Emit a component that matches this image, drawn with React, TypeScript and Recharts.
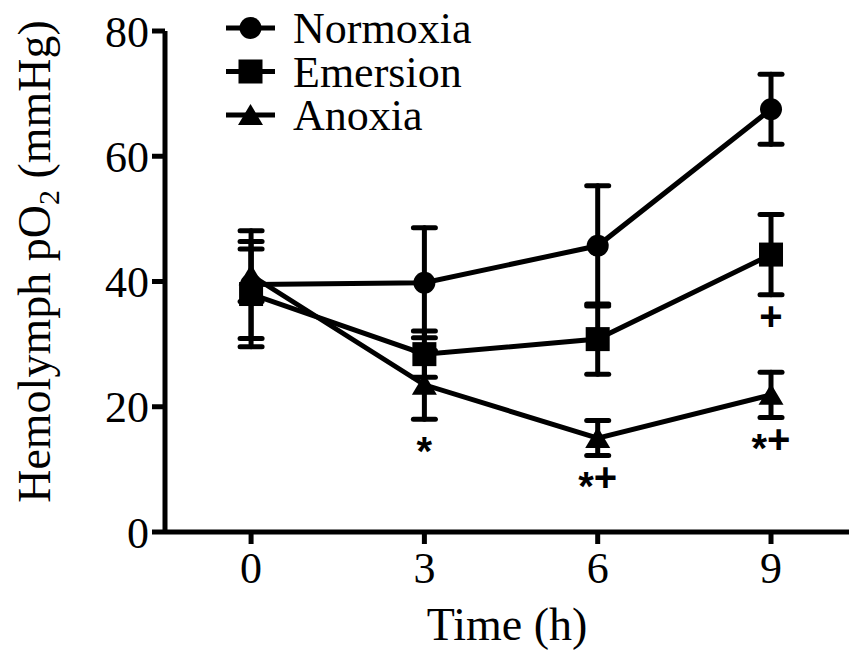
import React from 'react';
import { ComposedChart, Line, Scatter, XAxis, YAxis, ErrorBar, Legend } from 'recharts';

const times = [0, 3, 6, 9];
const normoxiaMean = [39.5, 39.8, 45.7, 67.5];
const normoxiaSem = [8.6, 8.8, 9.6, 5.6];
const emersionMean = [38, 28.4, 30.8, 44.3];
const emersionSem = [8.4, 3.7, 5.6, 6.4];
const anoxiaMean = [41, 23.5, 15, 21.9];
const anoxiaSem = [4.2, 5.5, 2.8, 3.6];

const xTicks = [0, 3, 6, 9];
const yTicks = [0, 20, 40, 60, 80];

const markTimes = [3, 6, 9, 9];
const markValues = [12.2, 6.6, 32.2, 12.6];
const markLabels = ['*', '*+', '+', '*+'];

const seriesList = [
  { key: 'normoxia', name: 'Normoxia', shape: 'circle' },
  { key: 'emersion', name: 'Emersion', shape: 'square' },
  { key: 'anoxia', name: 'Anoxia', shape: 'triangle' },
];

const data = times.map((t, i) => ({
  time: t,
  normoxia: normoxiaMean[i],
  normoxiaErr: normoxiaSem[i],
  emersion: emersionMean[i],
  emersionErr: emersionSem[i],
  anoxia: anoxiaMean[i],
  anoxiaErr: anoxiaSem[i],
}));

const marks = markTimes.map((t, i) => ({ time: t, mark: markValues[i], label: markLabels[i] }));

const SERIF = '"Liberation Serif", "Times New Roman", Times, serif';
const SANS = '"Liberation Sans", Arial, Helvetica, sans-serif';

function Marker({ shape, cx, cy }: { shape: string; cx: number; cy: number }) {
  if (shape === 'circle') return <circle cx={cx} cy={cy} r={11} fill="#000" />;
  if (shape === 'square') return <rect x={cx - 12} y={cy - 12} width={24} height={24} fill="#000" />;
  return (
    <polygon
      points={`${cx},${cy - 11} ${cx + 12.5},${cy + 10} ${cx - 12.5},${cy + 10}`}
      fill="#000"
    />
  );
}

const makeDot = (shape: string) => (props: any) => {
  const { cx, cy, index } = props;
  if (cx == null || cy == null) return <g key={`${shape}-${index}`} />;
  return (
    <g key={`${shape}-${index}`}>
      <Marker shape={shape} cx={cx} cy={cy} />
    </g>
  );
};

const LegendContent = () => (
  <svg width={270} height={140}>
    {seriesList.map((s, i) => {
      const cy = 28 + i * 43.5;
      return (
        <g key={s.key}>
          <line x1={11} x2={60} y1={cy} y2={cy} stroke="#000" strokeWidth={5} />
          <Marker shape={s.shape} cx={35.5} cy={cy} />
          <text x={78} y={cy + 15} fontSize={44} fontFamily={SERIF} fill="#000">
            {s.name}
          </text>
        </g>
      );
    })}
  </svg>
);

const MarkShape = (props: any) => {
  const { cx, cy, payload } = props;
  const chars: string[] = String(payload.label).split('');
  return (
    <text
      x={cx}
      y={cy}
      textAnchor="middle"
      fontSize={40}
      fontWeight="bold"
      fontFamily={SANS}
      fill="#000"
    >
      {chars.map((c, i) => {
        const shift = c === '*' ? 9 : 0;
        const prev = i > 0 && chars[i - 1] === '*' ? 9 : 0;
        return (
          <tspan key={i} dy={shift - prev}>
            {c}
          </tspan>
        );
      })}
    </text>
  );
};

const YLabel = (props: any) => {
  const vb = props.viewBox || { x: 0, y: 31, width: 165, height: 501 };
  const cx = 50;
  const cy = vb.y + vb.height / 2 - 20;
  return (
    <text
      x={cx}
      y={cy}
      transform={`rotate(-90, ${cx}, ${cy})`}
      textAnchor="middle"
      fontSize={46}
      fontFamily={SERIF}
      fill="#000"
      stroke="none"
    >
      <tspan fill="#000">Hemolymph pO</tspan>
      <tspan fill="#000" fontSize={30} dy={9}>2</tspan>
      <tspan fill="#000" dy={-9}> (mmHg)</tspan>
    </text>
  );
};

export default function App() {
  return (
    <div style={{ position: 'absolute', left: 0, top: 0, width: 849, height: 656, background: '#fff' }}>
      <ComposedChart width={849} height={656} data={data} margin={{ top: 31, right: 0, bottom: 0, left: 0 }}>
        <XAxis
          dataKey="time"
          type="number"
          domain={[-1.49, 10.35]}
          allowDataOverflow
          ticks={xTicks}
          height={124}
          axisLine={{ stroke: '#000', strokeWidth: 5 }}
          tickLine={{ stroke: '#000', strokeWidth: 5 }}
          tickSize={12}
          tickMargin={8}
          tick={{ fill: '#000', fontSize: 44, fontFamily: SERIF }}
          label={{ value: 'Time (h)', position: 'insideBottom', offset: 16, fill: '#000', fontSize: 46, fontFamily: SERIF }}
        />
        <YAxis
          type="number"
          domain={[0, 80]}
          ticks={yTicks}
          width={165}
          axisLine={{ stroke: '#000', strokeWidth: 5 }}
          tickLine={{ stroke: '#000', strokeWidth: 5 }}
          tickSize={13}
          tickMargin={3}
          tick={{ fill: '#000', fontSize: 44, fontFamily: SERIF }}
          label={<YLabel />}
        />
        <Legend
          layout="vertical"
          align="center"
          verticalAlign="middle"
          content={<LegendContent />}
          wrapperStyle={{ position: 'absolute', left: 215, top: 0, width: 270, height: 140 }}
        />
        {seriesList.map((s) => (
          <Line
            key={s.key}
            dataKey={s.key}
            name={s.name}
            stroke="#000"
            strokeWidth={5}
            isAnimationActive={false}
            dot={makeDot(s.shape)}
            activeDot={false}
          >
            <ErrorBar
              dataKey={`${s.key}Err`}
              direction="y"
              width={11}
              strokeWidth={5}
              stroke="#000"
              strokeLinecap="round"
              isAnimationActive={false}
            />
          </Line>
        ))}
        <Scatter data={marks} dataKey="mark" isAnimationActive={false} shape={<MarkShape />} legendType="none" />
      </ComposedChart>
    </div>
  );
}
